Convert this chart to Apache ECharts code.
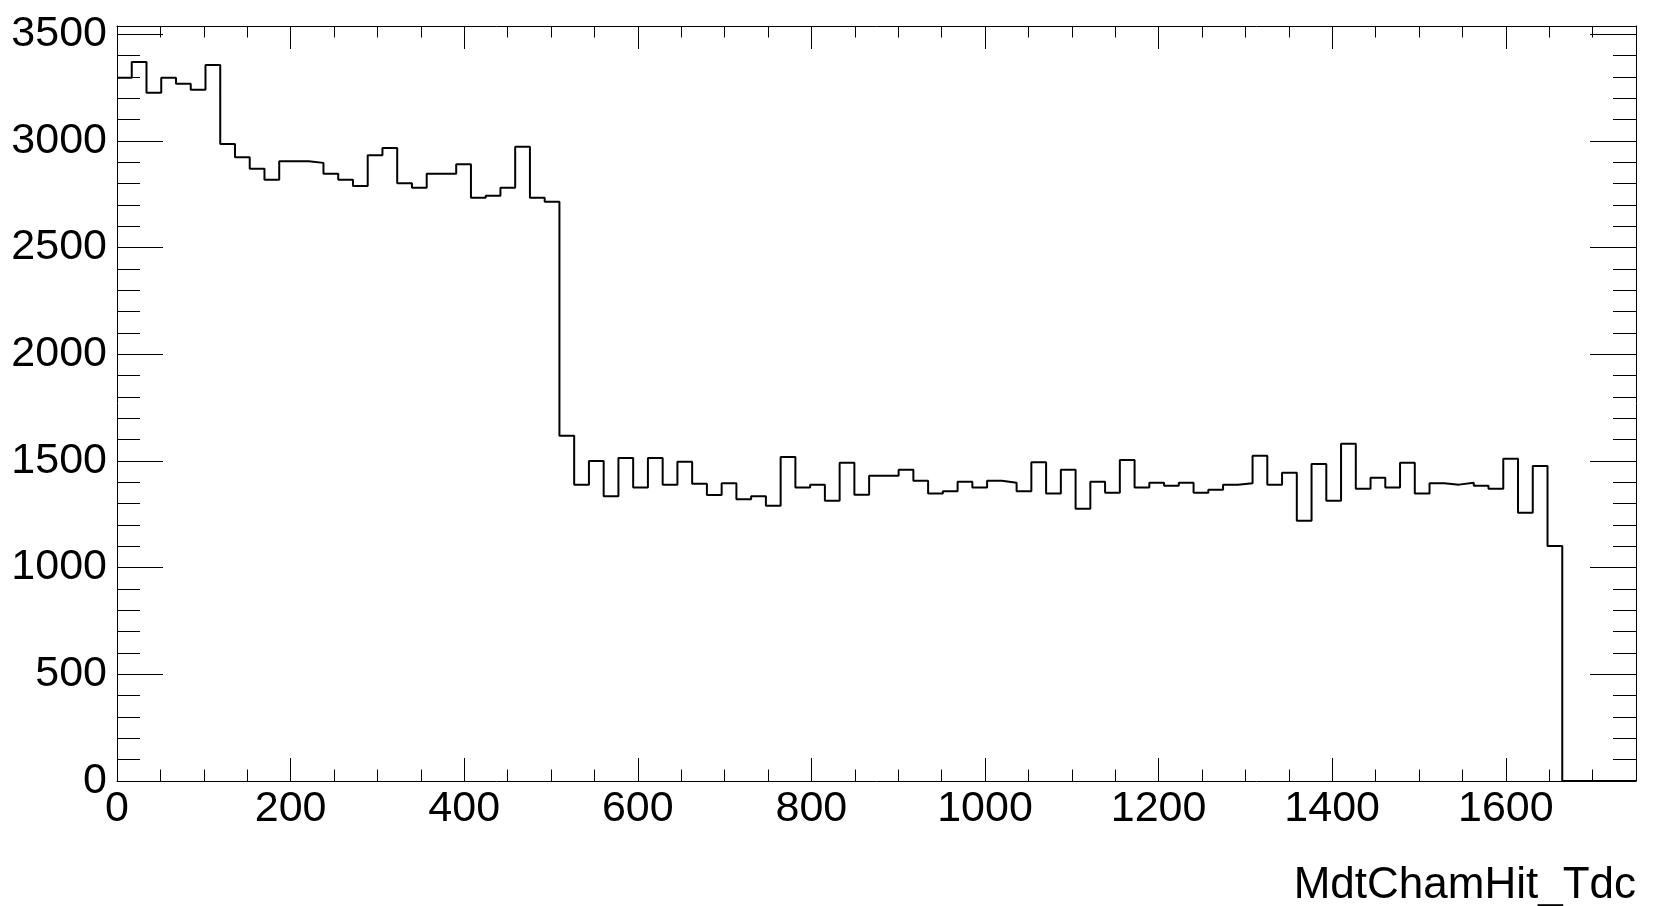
<!DOCTYPE html>
<html>
<head>
<meta charset="utf-8">
<script src="https://cdn.jsdelivr.net/npm/echarts@6/dist/echarts.min.js"></script>
<style>
html,body{margin:0;padding:0;background:#ffffff;}
#chart{width:1662px;height:906px;}
</style>
</head>
<body>
<div id="chart"></div>
<script>
// ---- data ----
const xRangeMax = 1750;
const nBins = 103;
const tdcCounts = [
  3296, 3370, 3226, 3296, 3268, 3240, 3356, 2986, 2923, 2869,
  2818, 2905, 2905, 2897, 2846, 2818, 2789, 2933, 2967, 2802,
  2780, 2846, 2846, 2891, 2733, 2743, 2780, 2972, 2733, 2715,
  1618, 1389, 1500, 1335, 1514, 1375, 1514, 1389, 1496, 1393,
  1340, 1395, 1321, 1335, 1290, 1519, 1375, 1389, 1313, 1491,
  1341, 1431, 1431, 1459, 1407, 1347, 1358, 1403, 1375, 1407,
  1398, 1358, 1494, 1347, 1459, 1276, 1403, 1351, 1504, 1375,
  1398, 1384, 1398, 1351, 1365, 1389, 1395, 1524, 1389, 1445,
  1220, 1486, 1313, 1581, 1370, 1421, 1375, 1491, 1347, 1395,
  1389, 1398, 1384, 1370, 1510, 1257, 1476, 1101,
  0, 0, 0, 0, 0
];
const xMajorTicks = [0, 200, 400, 600, 800, 1000, 1200, 1400, 1600];
const xMinorStep = 50;
const yMajorTicks = [0, 500, 1000, 1500, 2000, 2500, 3000, 3500];
const yMinorStep = 100;
const xTitle = 'MdtChamHit_Tdc';

// ---- derived structures ----
const binWidth = xRangeMax / nBins;
const yRangeMax = Math.max(...tdcCounts) * 1.05;
const xMinorTicks = [];
for (let v = 0; v <= xRangeMax; v += xMinorStep) xMinorTicks.push(v);
const yMinorTicks = [];
for (let v = 0; v <= yRangeMax; v += yMinorStep) yMinorTicks.push(v);

const histPoints = tdcCounts.map((c, i) => [i * binWidth, c]);
histPoints.push([xRangeMax, tdcCounts[tdcCounts.length - 1]]);

const FONT = 'Liberation Sans';
const black = '#000000';

function makeAxis(kind, position, ticks, len, withLabels, withLine) {
  const isX = kind === 'x';
  return {
    type: 'value',
    position: position,
    min: 0,
    max: isX ? xRangeMax : yRangeMax,
    axisLine: { show: withLine, onZero: false, lineStyle: { color: black, width: 1 } },
    axisTick: { show: true, inside: true, length: len, customValues: ticks,
                lineStyle: { color: black, width: 1 } },
    axisLabel: withLabels ? {
      show: true, customValues: ticks, color: black, fontSize: 43,
      fontFamily: FONT, margin: isX ? 7 : 10,
      formatter: function (v) { return String(v); }
    } : { show: false },
    splitLine: { show: false },
    minorTick: { show: false },
    minorSplitLine: { show: false }
  };
}

const chart = echarts.init(document.getElementById('chart'), null, { renderer: 'canvas' });
chart.setOption({
  animation: false,
  backgroundColor: '#ffffff',
  title: {
    text: xTitle,
    right: 26,
    top: 864,
    padding: 0,
    textStyle: { fontFamily: FONT, fontSize: 44, fontWeight: 'normal', color: black }
  },
  grid: { left: 117, right: 26, top: 26, bottom: 125, containLabel: false },
  xAxis: [
    makeAxis('x', 'bottom', xMajorTicks, 23, true, true),
    makeAxis('x', 'bottom', xMinorTicks, 11.5, false, false),
    makeAxis('x', 'top', xMajorTicks, 23, false, true),
    makeAxis('x', 'top', xMinorTicks, 11.5, false, false)
  ],
  yAxis: [
    makeAxis('y', 'left', yMajorTicks, 46, true, true),
    makeAxis('y', 'left', yMinorTicks, 23, false, false),
    makeAxis('y', 'right', yMajorTicks, 46, false, true),
    makeAxis('y', 'right', yMinorTicks, 23, false, false)
  ],
  series: [{
    type: 'line',
    xAxisIndex: 0,
    yAxisIndex: 0,
    step: 'end',
    data: histPoints,
    showSymbol: false,
    symbol: 'none',
    lineStyle: { color: black, width: 2 },
    silent: true
  }]
});
</script>
</body>
</html>
